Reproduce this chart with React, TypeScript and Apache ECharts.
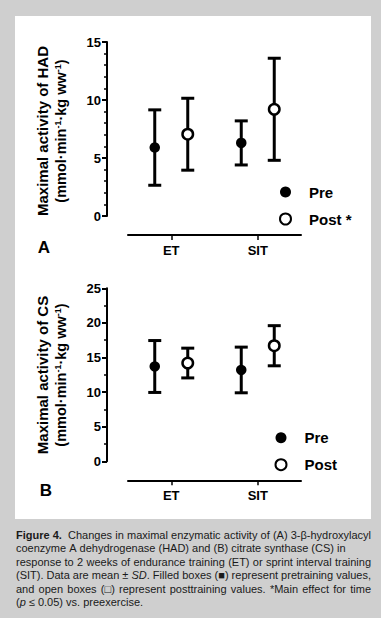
import React, { useEffect, useRef } from "react";
import * as echarts from "echarts";

const categories = ["ET", "SIT"];
// Panel A: HAD (mmol·min-1·kg ww-1)
const hadPreMean = [5.9, 6.3];
const hadPreSD = [3.25, 1.9];
const hadPostMean = [7.05, 9.2];
const hadPostSD = [3.1, 4.4];
// Panel B: CS
const csPreMean = [13.7, 13.2];
const csPreSD = [3.75, 3.3];
const csPostMean = [14.2, 16.7];
const csPostSD = [2.15, 2.9];

const hadTicks = { min: 0, max: 15, interval: 5 };
const csTicks = { min: 0, max: 25, interval: 5 };

const FONT = "'Liberation Sans', Arial, Helvetica, sans-serif";
const OFFSET = 16.5;

function errorBarSeries(name: string, axis: number, means: number[], sds: number[], dx: number) {
  return {
    type: "custom",
    name,
    xAxisIndex: axis,
    yAxisIndex: axis,
    z: 2,
    encode: { x: 0, y: 1 },
    data: means.map((m, i) => [i, m, sds[i]]),
    renderItem: (params: any, api: any) => {
      const xi = api.value(0);
      const m = api.value(1);
      const sd = api.value(2);
      const top = api.coord([xi, m + sd]);
      const bot = api.coord([xi, m - sd]);
      const cx = top[0] + dx;
      const style = { stroke: "#000", lineWidth: 3 };
      return {
        type: "group",
        children: [
          { type: "line", shape: { x1: cx, y1: top[1], x2: cx, y2: bot[1] }, style },
          { type: "line", shape: { x1: cx - 6.5, y1: top[1], x2: cx + 6.5, y2: top[1] }, style },
          { type: "line", shape: { x1: cx - 6.5, y1: bot[1], x2: cx + 6.5, y2: bot[1] }, style },
        ],
      };
    },
  };
}

function pointSeries(name: string, axis: number, means: number[], dx: number, open: boolean) {
  return {
    type: "scatter",
    name,
    xAxisIndex: axis,
    yAxisIndex: axis,
    z: 5,
    symbol: "circle",
    symbolSize: 10.5,
    symbolOffset: [dx, 0],
    itemStyle: open
      ? { color: "#fff", borderColor: "#000", borderWidth: 2.5, opacity: 1 }
      : { color: "#000", borderColor: "#000", borderWidth: 0, opacity: 1 },
    data: means.map((m, i) => [categories[i], m]),
  };
}

function yAxisOpt(gridIndex: number, t: { min: number; max: number; interval: number }, minorSplit: number) {
  return {
    type: "value",
    gridIndex,
    min: t.min,
    max: t.max,
    interval: t.interval,
    offset: 21,
    axisLine: { show: true, onZero: false, lineStyle: { color: "#000", width: 2 } },
    axisTick: { show: true, length: 5, lineStyle: { color: "#000", width: 2 } },
    minorTick: { show: true, splitNumber: minorSplit, length: 3, lineStyle: { color: "#000", width: 1.5 } },
    splitLine: { show: false },
    minorSplitLine: { show: false },
    axisLabel: { color: "#000", fontFamily: FONT, fontWeight: "bold", fontSize: 13, margin: 6 },
  };
}

function xAxisOpt(gridIndex: number, offset: number) {
  return {
    type: "category",
    gridIndex,
    data: categories,
    offset,
    position: "bottom",
    axisLine: { show: true, onZero: false, lineStyle: { color: "#000", width: 2 } },
    axisTick: { show: true, alignWithLabel: true, length: 5, lineStyle: { color: "#000", width: 1.5 } },
    axisLabel: { color: "#000", fontFamily: FONT, fontWeight: "bold", fontSize: 13, margin: 9 },
    splitLine: { show: false },
  };
}

function legendOpt(names: string[], left: number, top: number) {
  return {
    orient: "vertical",
    left,
    top,
    data: names,
    itemWidth: 33,
    itemHeight: 11,
    itemGap: 11,
    selectedMode: false,
    textStyle: { color: "#000", fontFamily: FONT, fontWeight: "bold", fontSize: 15, lineHeight: 16, padding: [0, 0, 0, 2] },
  };
}

function yTitle(line1: string, cx1: number, cx2: number, cy: number) {
  return [
    {
      type: "text",
      x: cx1,
      y: cy,
      rotation: Math.PI / 2,
      style: {
        text: line1,
        fill: "#000",
        font: `bold 15px ${FONT}`,
        align: "center",
        verticalAlign: "middle",
      },
    },
    {
      type: "text",
      x: cx2,
      y: cy,
      rotation: Math.PI / 2,
      style: {
        text: "(mmol·min{sup|-1}·kg ww{sup|-1})",
        fill: "#000",
        fontFamily: FONT,
        fontSize: 14.5,
        fontWeight: "bold",
        lineHeight: 16,
        align: "center",
        verticalAlign: "middle",
        rich: {
          sup: { fontFamily: FONT, fontSize: 9, fontWeight: "bold", verticalAlign: "top", lineHeight: 16, fill: "#000" },
        },
      },
    },
  ];
}

// caption lines; second field = justified
const captionLines: [string, boolean][] = [
  ["{b|Figure\u00A04.}\u00A0 Changes in maximal enzymatic activity of (A) 3-β-hydroxylacyl", true],
  ["coenzyme A dehydrogenase (HAD) and (B) citrate synthase (CS) in", false],
  ["response to 2 weeks of endurance training (ET) or sprint interval training", true],
  ["(SIT). Data are mean ± {i|SD}. Filled boxes (■) represent pretraining values,", true],
  ["and open boxes (□) represent posttraining values. *Main effect for time", true],
  ["({i|p} ≤ 0.05) vs. preexercise.", false],
];

const CAP_SIZE = 11;
const CAP_LEFT = 16;
const CAP_RIGHT = 371;

function buildCaption() {
  const canvas = document.createElement("canvas");
  const ctx = canvas.getContext("2d")!;
  const fontFor = (s: string) =>
    s === "b" ? `bold ${CAP_SIZE}px ${FONT}` : s === "i" ? `italic ${CAP_SIZE}px ${FONT}` : `${CAP_SIZE}px ${FONT}`;
  const measureWord = (w: string) => {
    let width = 0;
    const re = /\{(b|i)\|([^}]*)\}/g;
    let last = 0;
    let m: RegExpExecArray | null;
    while ((m = re.exec(w))) {
      if (m.index > last) {
        ctx.font = fontFor("");
        width += ctx.measureText(w.slice(last, m.index)).width;
      }
      ctx.font = fontFor(m[1]);
      width += ctx.measureText(m[2]).width;
      last = m.index + m[0].length;
    }
    if (last < w.length) {
      ctx.font = fontFor("");
      width += ctx.measureText(w.slice(last)).width;
    }
    return width;
  };
  ctx.font = fontFor("");
  const spaceW = ctx.measureText(" ").width;
  const out: any[] = [];
  captionLines.forEach(([line, justify], li) => {
    const words = line.split(" ");
    const widths = words.map(measureWord);
    const total = widths.reduce((a, b) => a + b, 0);
    const gap = justify && words.length > 1 ? (CAP_RIGHT - CAP_LEFT - total) / (words.length - 1) : spaceW;
    let x = CAP_LEFT;
    words.forEach((w, wi) => {
      out.push({
        type: "text",
        x,
        y: 535 + li * 13.4,
        style: {
          text: w,
          fill: "#1a1a1a",
          fontFamily: FONT,
          fontSize: CAP_SIZE,
          align: "left",
          verticalAlign: "middle",
          rich: {
            b: { fontFamily: FONT, fontSize: CAP_SIZE, fontWeight: "bold", fill: "#1a1a1a" },
            i: { fontFamily: FONT, fontSize: CAP_SIZE, fontStyle: "italic", fill: "#1a1a1a" },
          },
        },
      });
      x += widths[wi] + gap;
    });
  });
  return out;
}

export default function App() {
  const ref = useRef<HTMLDivElement>(null);
  useEffect(() => {
    if (!ref.current) return;
    const chart = echarts.init(ref.current, undefined, { renderer: "svg" });
    chart.setOption({
      animation: false,
      backgroundColor: "#cfcfcf",
      grid: [
        { left: 128, top: 42, width: 173, height: 174 },
        { left: 128, top: 288.3, width: 173, height: 173 },
      ],
      xAxis: [xAxisOpt(0, 19), xAxisOpt(1, 19)],
      yAxis: [yAxisOpt(0, hadTicks, 5), yAxisOpt(1, csTicks, 2)],
      legend: [legendOpt(["Pre", "Post *"], 274, 179), legendOpt(["Pre", "Post"], 269.5, 424.7)],
      series: [
        errorBarSeries("Pre SD A", 0, hadPreMean, hadPreSD, -OFFSET),
        errorBarSeries("Post SD A", 0, hadPostMean, hadPostSD, OFFSET),
        pointSeries("Pre", 0, hadPreMean, -OFFSET, false),
        pointSeries("Post *", 0, hadPostMean, OFFSET, true),
        errorBarSeries("Pre SD B", 1, csPreMean, csPreSD, -OFFSET),
        errorBarSeries("Post SD B", 1, csPostMean, csPostSD, OFFSET),
        pointSeries("Pre", 1, csPreMean, -OFFSET, false),
        pointSeries("Post", 1, csPostMean, OFFSET, true),
      ],
      graphic: [
        { type: "rect", z: -10, shape: { x: 15, y: 16, width: 356, height: 503 }, style: { fill: "#fff" } },
        ...yTitle("Maximal activity of HAD", 42, 61, 131),
        ...yTitle("Maximal activity of CS", 42, 61, 375),
        { type: "text", x: 44, y: 247, style: { text: "A", fill: "#000", font: `bold 17px ${FONT}`, align: "center", verticalAlign: "middle" } },
        { type: "text", x: 46, y: 490, style: { text: "B", fill: "#000", font: `bold 17px ${FONT}`, align: "center", verticalAlign: "middle" } },
        ...buildCaption(),
      ],
    });
    return () => chart.dispose();
  }, []);
  return <div ref={ref} style={{ position: "fixed", left: 0, top: 0, width: 381, height: 618 }} />;
}
